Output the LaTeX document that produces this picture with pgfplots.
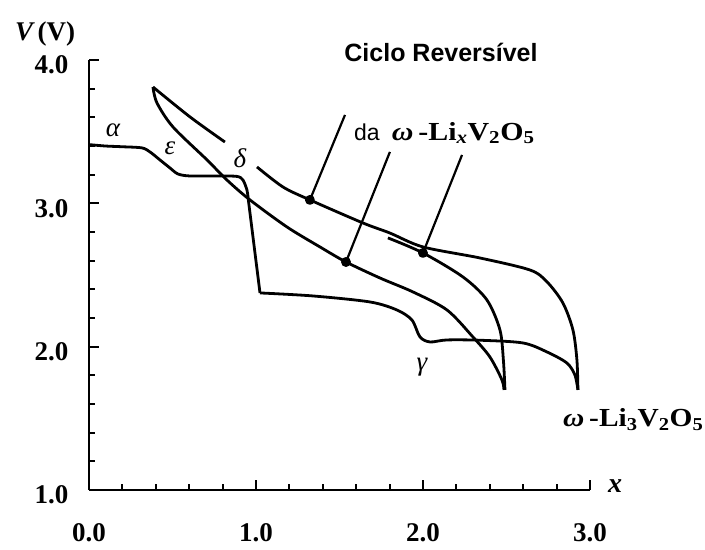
\documentclass[border=0pt]{standalone}
\usepackage{pgfplots}
\pgfplotsset{compat=1.18}
\usepackage{graphicx}
\usepackage{fontspec}
\setmainfont{Liberation Serif}
\newfontfamily\sansf{Liberation Sans}
\begin{document}
\begin{tikzpicture}
\begin{axis}[
 scale only axis, width=501pt, height=430pt,
 xmin=0, xmax=3, ymin=1, ymax=4,
 axis lines=left, axis line style={-, line width=2.4pt},
 xtick={0,1,2,3}, xticklabels={0.0,1.0,2.0,3.0},
 ytick={1,2,3,4}, yticklabels={1.0,2.0,3.0,4.0},
 minor x tick num=4, minor y tick num=4,
 tick align=inside, major tick length=10pt, minor tick length=6pt,
 every tick/.style={line width=2pt, black},
 ticklabel style={font=\bfseries\fontsize{27}{27}\selectfont},
 xticklabel style={yshift=-30pt},
 yticklabel style={xshift=-17pt, yshift=-5pt},
 clip=false,
 cycle list={{black, no markers}},
 every axis plot/.append style={black, line width=2.8pt, line join=round, no markers},
]
% first discharge
\addplot[smooth, tension=0.5] coordinates {(0,3.41) (0.1,3.40) (0.2,3.395) (0.317,3.387) (0.365,3.359) (0.425,3.303) (0.485,3.247) (0.533,3.205) (0.605,3.191) (0.772,3.191) (0.886,3.188) (0.922,3.163) (0.946,3.093) (0.952,3.045)};
\addplot[sharp plot] coordinates {(0.952,3.045) (1.024,2.375)};
\addplot[smooth, tension=0.5] coordinates {(1.024,2.375) (1.341,2.354) (1.683,2.312) (1.844,2.256) (1.934,2.186) (1.982,2.068) (2.042,2.033) (2.144,2.047) (2.341,2.045) (2.599,2.026) (2.743,1.963) (2.862,1.886) (2.910,1.802) (2.928,1.698)};
% reversible discharge
\addplot[smooth, tension=0.5] coordinates {(0.383,3.812) (0.407,3.701) (0.503,3.533) (0.707,3.303) (0.826,3.163) (0.964,3.024) (1.186,2.835) (1.383,2.696) (1.539,2.591) (1.743,2.479) (1.940,2.382) (2.144,2.256) (2.299,2.068) (2.401,1.928) (2.473,1.768) (2.485,1.698)};
% upper (charge) branch
\addplot[smooth, tension=0.5] coordinates {(0.383,3.812) (0.605,3.603) (0.814,3.428)};
\addplot[smooth, tension=0.5] coordinates {(1.006,3.254) (1.162,3.114) (1.323,3.024) (1.641,2.863) (1.802,2.793) (2.0,2.696) (2.341,2.619) (2.641,2.535) (2.743,2.452) (2.838,2.305) (2.898,2.117) (2.922,1.907) (2.928,1.698)};
% inner charge arc
\addplot[smooth, tension=0.5] coordinates {(1.790,2.759) (2.0,2.654) (2.240,2.486) (2.383,2.326) (2.461,2.117) (2.482,1.9) (2.491,1.698)};
% leader lines
\addplot[sharp plot, line width=2.2pt] coordinates {(1.533,3.617) (1.323,3.024)};
\addplot[sharp plot, line width=2.2pt] coordinates {(1.802,3.359) (1.539,2.591)};
\addplot[sharp plot, line width=2.2pt] coordinates {(2.234,3.338) (2.0,2.654)};
\addplot[only marks, mark=*, mark size=3.5pt] coordinates {(1.323,3.024) (1.539,2.591) (2.0,2.654)};
% texts
\node[font=\sansf\bfseries\fontsize{25}{25}\selectfont] at (axis cs:2.108,4.05) {Ciclo Reversível};
\node[anchor=base west, inner sep=0pt] at (axis cs:1.587,3.442) {{\sansf\fontsize{23}{23}\selectfont da}\hspace{12pt}\scalebox{1.15}[1]{\bfseries\fontsize{26}{26}\selectfont{\itshape ω}\,-Li\textsubscript{\itshape x}V\textsubscript{2}O\textsubscript{5}}};
\node[anchor=base west, inner sep=0pt] at (axis cs:2.838,1.44) {\scalebox{1.13}[1]{\bfseries\fontsize{26}{26}\selectfont{\itshape ω}\,-Li\textsubscript{3}V\textsubscript{2}O\textsubscript{5}}};
\node[font=\itshape\fontsize{27}{27}\selectfont] at (axis cs:0.144,3.512) {α};
\node[font=\itshape\fontsize{27}{27}\selectfont] at (axis cs:0.485,3.387) {ε};
\node[font=\itshape\fontsize{27}{27}\selectfont] at (axis cs:0.904,3.317) {δ};
\node[font=\itshape\fontsize{27}{27}\selectfont] at (axis cs:1.994,1.858) {γ};
\node[font=\bfseries\fontsize{27}{27}\selectfont] at (axis cs:-0.263,4.182) {{\itshape V}\,(V)};
\node[font=\bfseries\itshape\fontsize{28}{28}\selectfont] at (axis cs:3.15,1.03) {x};
\coordinate (BL) at (axis cs:-0.533,0.588);
\coordinate (TR) at (axis cs:3.689,4.419);
\end{axis}
\pgfresetboundingbox
\path[use as bounding box] (BL) rectangle (TR);
\end{tikzpicture}
\end{document}
